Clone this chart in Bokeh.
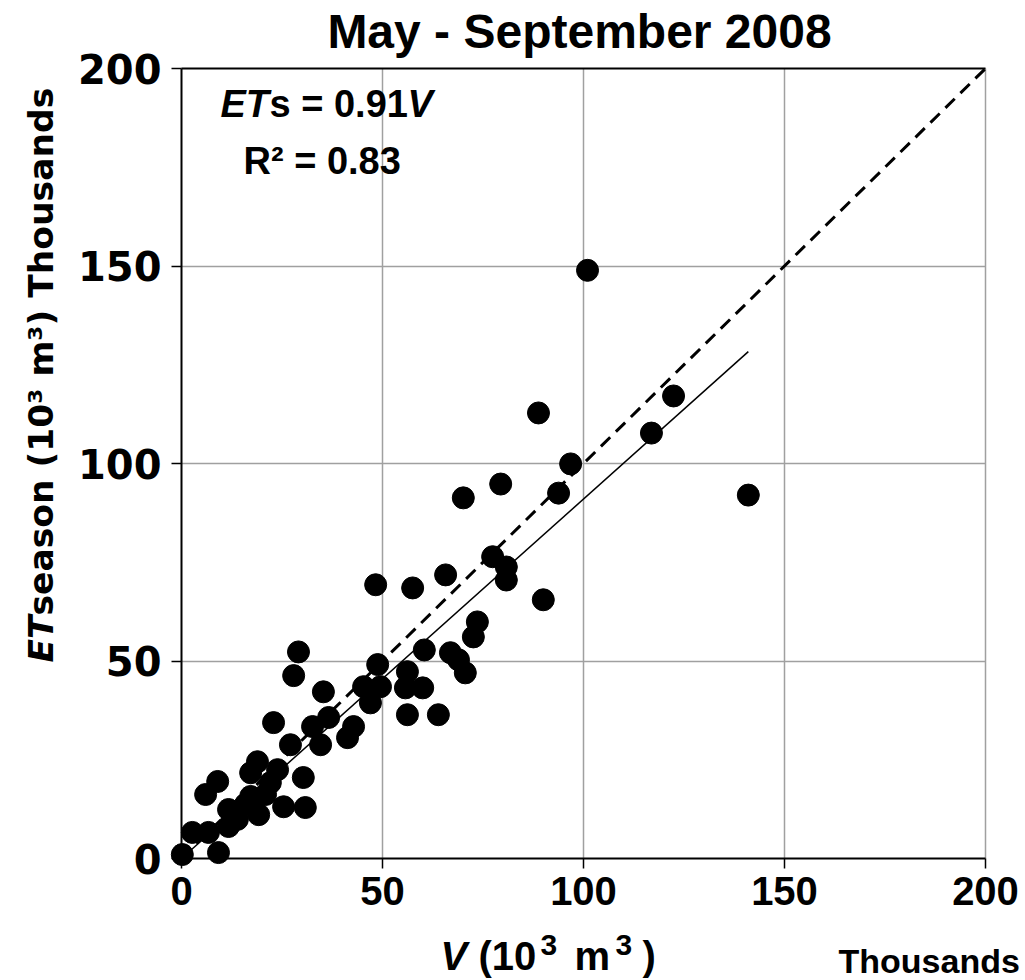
import math
from bokeh.plotting import figure
from bokeh.models import Range1d, FixedTicker, Label, ColumnDataSource, LinearAxis, Grid
from bokeh.embed import file_html
from bokeh.resources import INLINE

# ---- data (10^3 m^3) ----
v_vals = [101.0, 141.0, 122.4, 116.9, 88.8, 96.8, 93.8, 79.4, 70.1, 90.0,
          77.4, 80.8, 80.8, 65.7, 57.5, 48.3, 73.6, 72.6, 66.9, 68.9,
          70.6, 60.4, 56.2, 60.0, 55.7, 56.2, 63.9, 48.8, 45.3, 49.5,
          47.0, 29.1, 27.9, 35.3, 22.9, 36.6, 32.6, 27.1, 34.6, 41.3,
          42.8, 18.9, 17.2, 23.9, 30.3, 22.1, 9.0, 6.0, 11.7, 19.2,
          2.7, 6.7, 11.7, 0.2, 9.2, 30.8, 25.4, 17.2, 13.9, 20.9, 15.9]
ets_vals = [148.9, 92.0, 117.1, 107.7, 112.8, 99.9, 92.5, 94.8, 91.3, 65.5,
            76.4, 73.8, 70.5, 71.8, 68.5, 69.3, 59.9, 56.1, 52.1, 50.3,
            47.0, 52.8, 47.3, 43.2, 43.2, 36.4, 36.4, 49.1, 43.5, 43.5,
            39.4, 52.3, 46.3, 42.2, 34.4, 35.7, 33.4, 28.8, 28.8, 30.6,
            33.4, 24.5, 21.7, 22.5, 20.5, 19.2, 19.5, 16.2, 12.4, 11.1,
            6.6, 6.6, 8.1, 1.0, 1.5, 12.9, 13.1, 15.7, 9.9, 16.2, 13.7]
slope = 0.91
fit_x = [0.0, 141.0]
one_to_one = [0.0, 200.0]
x_ticks = [0, 50, 100, 150, 200]
y_ticks = [0, 50, 100, 150, 200]
axis_min, axis_max = 0, 200

SANS = "Liberation Sans"
WIDE = "DejaVu Sans"

# canvas geometry: the plotting box (0..200) sits at x 181..985 px, y 68..858 px
W, H = 1020, 978
L_PX, R_PX, T_PX, B_PX = 181, 985, 68, 858
sx = (R_PX - L_PX) / (axis_max - axis_min)
sy = (B_PX - T_PX) / (axis_max - axis_min)
x_range = Range1d(axis_min - L_PX / sx, axis_max + (W - R_PX) / sx)
y_range = Range1d(axis_min - (H - B_PX) / sy, axis_max + T_PX / sy)

p = figure(width=W, height=H, output_backend="svg", toolbar_location=None,
           x_range=x_range, y_range=y_range, x_axis_location=None, y_axis_location=None,
           min_border=0)
p.outline_line_color = None
p.background_fill_color = "white"
p.border_fill_color = "white"
p.grid.visible = False

def style_axis(ax):
    ax.axis_line_color = "black"
    ax.axis_line_width = 2
    ax.major_tick_line_color = "black"
    ax.major_tick_line_width = 1.5
    ax.major_tick_out = 10
    ax.major_tick_in = 0
    ax.minor_tick_line_color = None
    ax.major_label_text_color = "black"
    ax.major_label_text_font_style = "bold"
    ax.bounds = (axis_min, axis_max)

xax = LinearAxis(fixed_location=axis_min, ticker=FixedTicker(ticks=x_ticks))
style_axis(xax)
xax.major_label_text_font = SANS
xax.major_label_text_font_size = "40px"
xax.major_label_standoff = 8
p.add_layout(xax, "below")

yax = LinearAxis(fixed_location=axis_min, ticker=FixedTicker(ticks=y_ticks))
style_axis(yax)
yax.major_label_text_font = WIDE
yax.major_label_text_font_size = "40px"
yax.major_label_standoff = 10
p.add_layout(yax, "left")

# top border line of the box
tax = LinearAxis(fixed_location=axis_max, ticker=FixedTicker(ticks=[]))
tax.axis_line_color = "black"
tax.axis_line_width = 2
tax.major_tick_line_color = None
tax.minor_tick_line_color = None
tax.major_label_text_font_size = "0px"
tax.bounds = (axis_min, axis_max)
p.add_layout(tax, "above")

# grid lines limited to the box
gx = Grid(dimension=0, ticker=FixedTicker(ticks=[50, 100, 150, 200]),
          grid_line_color="#a0a0a0", grid_line_width=1.5)
gy = Grid(dimension=1, ticker=FixedTicker(ticks=[50, 100, 150]),
          grid_line_color="#a0a0a0", grid_line_width=1.5)
gx.bounds = (axis_min, axis_max)
gy.bounds = (axis_min, axis_max)
gx.cross_bounds = (axis_min, axis_max)
gy.cross_bounds = (axis_min, axis_max)
p.add_layout(gx)
p.add_layout(gy)

# lines
p.line(one_to_one, one_to_one, line_color="black", line_width=3, line_dash="13 8")
p.line(fit_x, [slope * v for v in fit_x], line_color="black", line_width=1.5)

# points
src = ColumnDataSource(dict(x=v_vals, y=ets_vals))
p.scatter("x", "y", source=src, size=22, fill_color="black", line_color="black")

def lab(text, x, y, size, font=SANS, style="bold", align="left", baseline="middle", angle=0.0):
    # x, y are canvas pixel positions (top-left origin)
    p.add_layout(Label(x=x, y=y, x_units="canvas", y_units="canvas", text=text,
                       text_font=font, text_font_size=f"{size}px",
                       text_font_style=style, text_align=align, text_baseline=baseline,
                       text_color="black", angle=angle))

# title
lab("May - September 2008", 579, 31, 48, align="center")

# equation
lab("ET", 220, 103, 38, style="bold italic")
lab("s = 0.91", 269, 103, 38)
lab("V", 407, 103, 38, style="bold italic")
lab("R² = 0.83", 243, 160, 38)

# x-axis label
lab("V", 440, 955, 40, style="bold italic")
lab("(10", 478, 955, 40)
lab("3", 540, 944, 30)
lab("m", 574, 955, 40)
lab("3", 615, 944, 30)
lab(")", 642, 955, 40)
lab("Thousands", 838, 960, 34)

# y-axis label (rotated)
lab("ET", 40, 662, 34.5, font=WIDE, style="bold italic", angle=math.pi / 2)
lab("season (10³ m³)  Thousands", 40, 615, 34.5, font=WIDE, angle=math.pi / 2)

open("out.html", "w").write(file_html(p, INLINE))
